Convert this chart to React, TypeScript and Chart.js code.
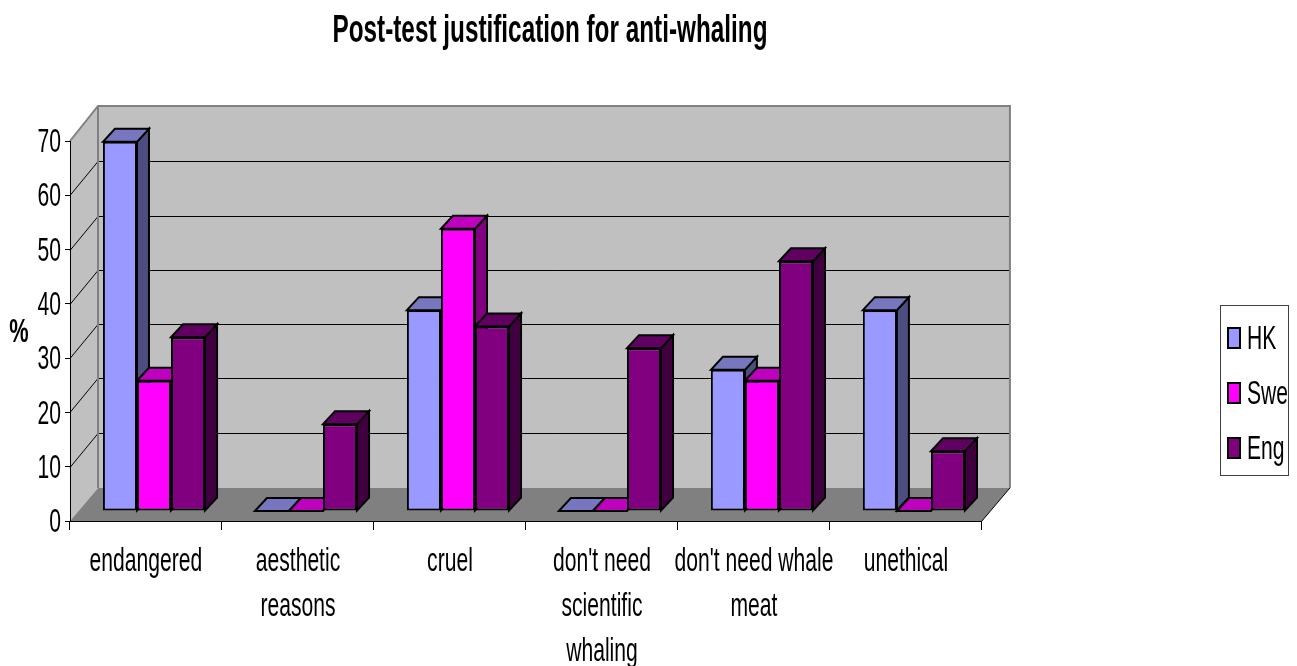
import React, { useEffect, useRef } from "react";
import { Chart, registerables } from "chart.js";

Chart.register(...registerables);

const categories = [
  "endangered",
  ["aesthetic", "reasons"],
  "cruel",
  ["don't need", "scientific", "whaling"],
  ["don't need whale", "meat"],
  "unethical",
];
const hk = [68, 0, 37, 0, 26, 37];
const swe = [24, 0, 52, 0, 24, 0];
const eng = [32, 16, 34, 30, 46, 11];
const seriesNames = ["HK", "Swe", "Eng"];

const FONT = "'Liberation Sans', Arial, sans-serif";
const TEXT_SQUEEZE = 0.64;
const TEXT_DROP = 2;
const LEGEND_TEXT_SHIFT = -9.5;
const WALL = { dx: 28, floorDy: -33, gridDy: -34.5, topDy: -35 };
const BAR_SHIFT = { dx: 8, dy: -10 };
const BAR_DEPTH = { dx: 12, dy: -13 };
const faces = [
  { top: "#7777BF", side: "#4D4D80" },
  { top: "#BF00BF", side: "#800080" },
  { top: "#600060", side: "#400040" },
];

// The original uses a narrow face that is not installed: condense text horizontally.
function condenseText(ctx: any) {
  const fill = ctx.fillText.bind(ctx);
  const measure = ctx.measureText.bind(ctx);
  ctx.fillText = (text: string, x: number, y: number) => {
    ctx.save();
    ctx.translate(x + (seriesNames.includes(text) ? LEGEND_TEXT_SHIFT : 0), y + TEXT_DROP);
    ctx.scale(TEXT_SQUEEZE, 1);
    fill(text, 0, 0);
    ctx.restore();
  };
  ctx.measureText = (text: string) => {
    const m = measure(text);
    return { width: m.width * TEXT_SQUEEZE, actualBoundingBoxAscent: m.actualBoundingBoxAscent, actualBoundingBoxDescent: m.actualBoundingBoxDescent };
  };
}

function poly(ctx: any, pts: number[][], fill: string | null, stroke: string | null, lw = 2) {
  ctx.beginPath();
  pts.forEach((p, i) => (i ? ctx.lineTo(p[0], p[1]) : ctx.moveTo(p[0], p[1])));
  ctx.closePath();
  if (fill) {
    ctx.fillStyle = fill;
    ctx.fill();
  }
  if (stroke) {
    ctx.strokeStyle = stroke;
    ctx.lineWidth = lw;
    ctx.lineJoin = "miter";
    ctx.stroke();
  }
}

const box3d = {
  id: "box3d",
  afterLayout(chart: any) {
    const t = chart.titleBlock;
    t.left = 0;
    t.right = 1100;
    chart.scales.x.bottom = 666;
    const l = chart.legend;
    const w = l.width;
    l.left = 1206;
    l.right = 1206 + w;
    l.top = 203;
    l.bottom = 583;
    l.adjustHitBoxes();
  },
  beforeDraw(chart: any) {
    const { ctx, chartArea: a, scales } = chart;
    const y = scales.y;
    const { dx, floorDy, gridDy, topDy } = WALL;
    ctx.save();
    const y0 = y.getPixelForValue(0);
    const yT = y.getPixelForValue(70);
    poly(ctx, [[a.left, yT], [a.left + dx, yT + topDy], [a.left + dx, y0 + floorDy], [a.left, y0]], "#C0C0C0", null);
    poly(ctx, [[a.left + dx, yT + topDy], [a.right + dx, yT + topDy], [a.right + dx, y0 + floorDy], [a.left + dx, y0 + floorDy]], "#C0C0C0", null);
    ctx.strokeStyle = "#000";
    ctx.lineWidth = 1;
    for (let v = 10; v <= 60; v += 10) {
      const p = Math.round(y.getPixelForValue(v));
      const back = Math.round(p + gridDy) + 0.5;
      ctx.beginPath();
      ctx.moveTo(a.left, p + 0.5);
      ctx.lineTo(a.left + dx, back);
      ctx.lineTo(a.right + dx, back);
      ctx.stroke();
    }
    ctx.strokeStyle = "#808080";
    ctx.lineWidth = 2;
    ctx.beginPath();
    ctx.moveTo(a.left, yT);
    ctx.lineTo(a.left + dx, yT + topDy);
    ctx.lineTo(a.right + dx, yT + topDy);
    ctx.lineTo(a.right + dx, y0 + floorDy);
    ctx.moveTo(a.left + dx, yT + topDy);
    ctx.lineTo(a.left + dx, y0 + floorDy);
    ctx.stroke();
    poly(ctx, [[a.left, y0], [a.left + dx, y0 + floorDy], [a.right + dx, y0 + floorDy], [a.right, y0]], "#808080", null);
    ctx.strokeStyle = "#000";
    ctx.lineWidth = 1;
    ctx.beginPath();
    ctx.moveTo(a.right, y0);
    ctx.lineTo(a.right + dx, y0 + floorDy);
    ctx.stroke();
    ctx.restore();
  },
  beforeDatasetsDraw(chart: any) {
    const { ctx } = chart;
    ctx.save();
    ctx.translate(BAR_SHIFT.dx, BAR_SHIFT.dy);
    const { dx, dy } = BAR_DEPTH;
    categories.forEach((_, i) => {
      chart.data.datasets.forEach((_d: any, d: number) => {
        const el = chart.getDatasetMeta(d).data[i];
        const l = el.x - el.width / 2;
        const r = el.x + el.width / 2;
        const t = el.y;
        const b = el.base;
        if (b - t > 0.5) {
          poly(ctx, [[r, t], [r + dx, t + dy], [r + dx, b + dy], [r, b]], faces[d].side, "#000");
        }
        poly(ctx, [[l, t], [l + dx, t + dy], [r + dx, t + dy], [r, t]], faces[d].top, "#000");
      });
    });
  },
  afterDatasetsDraw(chart: any) {
    chart.ctx.restore();
  },
  afterDraw(chart: any) {
    const { ctx, legend, scales } = chart;
    ctx.save();
    ctx.fillStyle = "#000";
    ctx.font = `bold 34px ${FONT}`;
    ctx.textAlign = "center";
    ctx.textBaseline = "middle";
    ctx.fillText("%", 19, scales.y.getPixelForValue(35));
    ctx.strokeStyle = "#404040";
    ctx.lineWidth = 1;
    ctx.strokeRect(legend.left + 14.5, 305.5, 68, 170);
    ctx.restore();
  },
};

export default function App() {
  const ref = useRef<HTMLCanvasElement>(null);
  useEffect(() => {
    document.body.style.margin = "0";
    const canvas = ref.current as HTMLCanvasElement;
    condenseText(canvas.getContext("2d"));
    const font = { family: FONT, size: 33 };
    const common = {
      borderColor: "#000",
      borderWidth: 2,
      borderSkipped: false,
      categoryPercentage: 0.672,
      barPercentage: 1,
      yAxisID: "y",
    };
    const chart = new Chart(canvas, {
      type: "bar",
      data: {
        labels: categories as any,
        datasets: [
          { label: seriesNames[0], data: hk, backgroundColor: "#9999FF", ...common },
          { label: seriesNames[1], data: swe, backgroundColor: "#FF00FF", ...common },
          { label: seriesNames[2], data: eng, backgroundColor: "#800080", ...common },
        ] as any,
      },
      plugins: [box3d],
      options: {
        responsive: false,
        animation: false,
        layout: { padding: { left: 0, top: 0, bottom: 27, right: 0 } },
        plugins: {
          tooltip: { enabled: false },
          title: {
            display: true,
            text: "Post-test justification for anti-whaling",
            color: "#000",
            font: { family: FONT, size: 38, weight: "bold", lineHeight: 1.2 },
            padding: { top: 7, bottom: 88.4 },
          },
          legend: {
            position: "right",
            fullSize: false,
            onClick: () => {},
            labels: {
              color: "#000",
              font,
              boxWidth: 12,
              boxHeight: 20,
              padding: 22,
            },
          },
        },
        scales: {
          x: {
            grid: { drawOnChartArea: false, tickLength: 9, color: "#000", lineWidth: 1 },
            border: { color: "#000", width: 1 },
            ticks: {
              color: "#000",
              font: { ...font, lineHeight: 45 / 33 },
              maxRotation: 0,
              autoSkip: false,
              padding: 7,
            },
            afterFit: (s: any) => {
              s.height = 118;
            },
          },
          y: {
            min: 0,
            max: 70,
            grid: { drawOnChartArea: false, tickLength: 5, color: "#000", lineWidth: 1 },
            border: { color: "#000", width: 1 },
            ticks: { color: "#000", font, stepSize: 10, padding: 4 },
            afterFit: (s: any) => {
              s.width = 70;
            },
          },
          gap: {
            type: "linear",
            position: "right",
            display: true,
            grid: { display: false },
            border: { display: false },
            ticks: { display: false },
            afterFit: (s: any) => {
              s.width = 213.5;
            },
          },
        },
      } as any,
    });
    return () => chart.destroy();
  }, []);
  return <canvas ref={ref} width={1297} height={666} style={{ display: "block" }} />;
}
